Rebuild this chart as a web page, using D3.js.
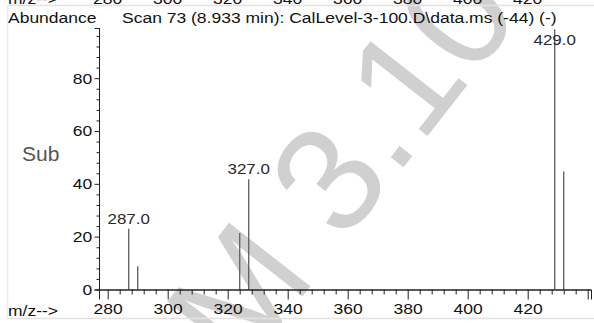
<!DOCTYPE html>
<html><head><meta charset="utf-8">
<script src="https://cdn.jsdelivr.net/npm/d3@7"></script>
<style>
html,body{margin:0;padding:0;background:#fff;}
svg{display:block;}
text{font-family:"Liberation Sans",Arial,Helvetica,sans-serif;}
</style></head>
<body>
<svg id="chart" width="594" height="323"></svg>
<script>
// ---- data ----
const mzValues = [287, 290, 324, 327, 429, 432];
const abundanceValues = [23.0, 8.8, 21.4, 41.7, 98.5, 44.7];
const labeledPeaks = [287, 327, 429];
const xTickValues = [280, 300, 320, 340, 360, 380, 400, 420, 440];
const xTickLabels = ["280", "300", "320", "340", "360", "380", "400", "420", ""];
const yTickValues = [0, 20, 40, 60, 80];
const yTickLabels = ["0", "20", "40", "60", "80"];
const titleText = "Scan 73 (8.933 min): CalLevel-3-100.D\\data.ms (-44) (-)";
const yAxisTitle = "Abundance";
const xAxisTitle = "m/z-->";
const sideLabel = "Sub";
const watermarkText = "M 3.10";

// ---- layout ----
const W = 594, H = 323;
const SX = 1.13;           // horizontal stretch of the sans text
const FS = 15.5;
const svg = d3.select("#chart");

const x = d3.scaleLinear().domain([277.1, 441.1]).range([99, 591]);
const y = d3.scaleLinear().domain([0, 99]).range([289.5, 28]);

// watermark (under everything)
svg.append("g")
  .attr("transform", "translate(241,375) rotate(-52)")
  .append("text")
  .attr("text-anchor", "start")
  .attr("font-size", 150)
  .attr("fill", "#d0d0d0")
  .text(watermarkText);

// frame lines (light gray)
svg.append("line").attr("x1", 8).attr("x2", W).attr("y1", 5.5).attr("y2", 5.5)
  .attr("stroke", "#e2e2e2").attr("stroke-width", 1.5);
svg.append("line").attr("x1", 8).attr("x2", W).attr("y1", 318.5).attr("y2", 318.5)
  .attr("stroke", "#e2e2e2").attr("stroke-width", 1.5);
svg.append("line").attr("x1", 7.5).attr("x2", 7.5).attr("y1", 5).attr("y2", 319)
  .attr("stroke", "#ececec").attr("stroke-width", 1.5);

function sText(parent, tx, ty, anchor, str, size, fill) {
  return parent.append("text")
    .attr("transform", `translate(${tx},${ty}) scale(${SX},1)`)
    .attr("text-anchor", anchor)
    .attr("font-size", size || FS)
    .attr("fill", fill || "#111")
    .text(str);
}

// clipped remnant of previous panel's x labels at very top
sText(svg, 8, 3.5, "start", xAxisTitle);
xTickValues.forEach((v, i) => sText(svg, x(v), 3.5, "middle", xTickLabels[i]));

// titles
sText(svg, 8, 23, "start", yAxisTitle);
sText(svg, 122, 23, "start", titleText);
svg.append("text").attr("x", 22).attr("y", 160.5)
  .attr("font-family", "'Liberation Mono','Courier New',monospace")
  .attr("font-size", 21).attr("fill", "#555")
  .attr("transform", "translate(22,0) scale(1.0,1) translate(-22,0)")
  .text(sideLabel);
sText(svg, 8, 316, "start", xAxisTitle);

// peaks
svg.append("g").selectAll("line").data(mzValues).join("line")
  .attr("x1", d => x(d)).attr("x2", d => x(d))
  .attr("y1", y(0)).attr("y2", (d, i) => y(abundanceValues[i]))
  .attr("stroke", "#666").attr("stroke-width", 1.4);

// peak labels
mzValues.forEach((d, i) => {
  if (labeledPeaks.includes(d)) {
    const ly = Math.max(y(abundanceValues[i]) - 5, 45);
    sText(svg, x(d), ly, "middle", d.toFixed(1), 15, "#2a2a2a");
  }
});

// x axis
const xMinor = d3.range(280, 442, 4).filter(v => !xTickValues.includes(v));
const gx = svg.append("g").attr("transform", `translate(0,${y(0)})`);
gx.call(d3.axisBottom(x).tickValues(xMinor).tickSize(5).tickFormat(""));
gx.call(g => g.append("g").call(d3.axisBottom(x).tickValues(xTickValues).tickSize(10)
  .tickFormat((d, i) => xTickLabels[i])));
gx.selectAll(".domain").attr("stroke", "#222");
gx.selectAll(".tick line").attr("stroke", "#222");
gx.selectAll(".tick text").attr("font-size", FS).attr("fill", "#111")
  .attr("y", 13).attr("dy", "0.71em").attr("transform", `scale(${SX},1)`);

// y axis
const yMinor = d3.range(0, 99, 4).filter(v => !yTickValues.includes(v));
const gy = svg.append("g").attr("transform", `translate(${x.range()[0]},0)`);
gy.call(d3.axisLeft(y).tickValues(yMinor).tickSize(2.5).tickFormat(""));
gy.call(g => g.append("g").call(d3.axisLeft(y).tickValues(yTickValues).tickSize(4.5)
  .tickPadding(1.5).tickFormat((d, i) => yTickLabels[i])));
gy.selectAll(".domain").attr("stroke", "#222");
gy.selectAll(".tick line").attr("stroke", "#222");
gy.selectAll(".tick text").attr("font-size", FS).attr("fill", "#111")
  .attr("transform", `scale(${SX},1)`);
</script>
</body></html>
